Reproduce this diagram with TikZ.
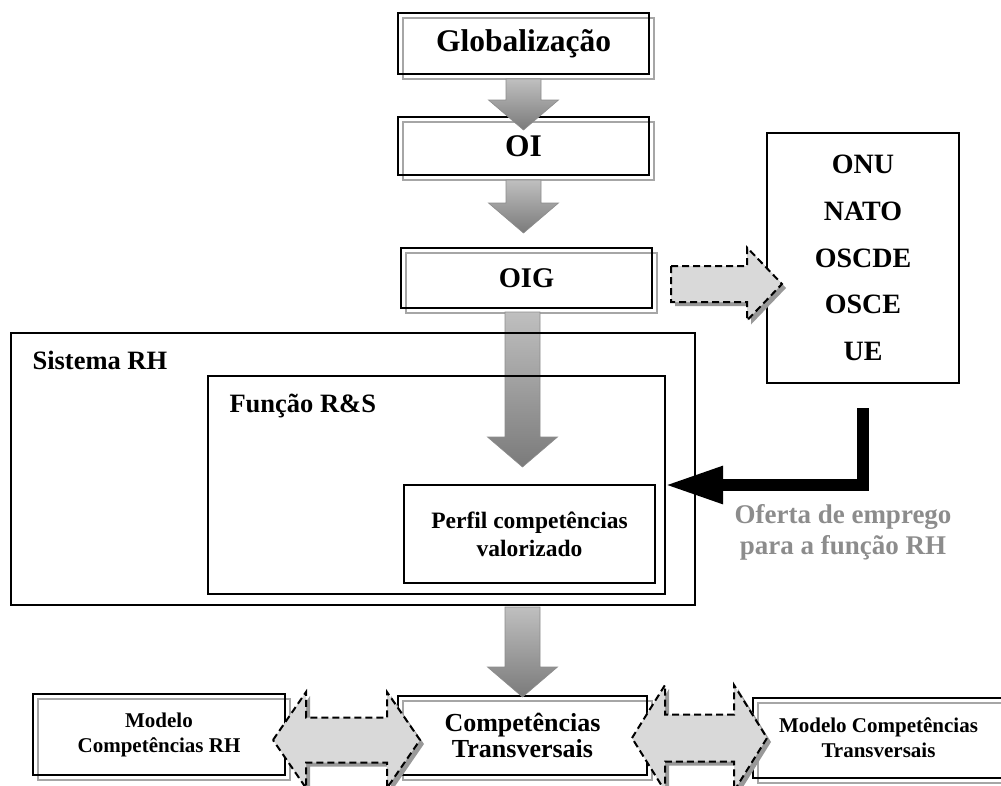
\documentclass[tikz,border=0pt]{standalone}
\usepackage{fontspec}
\setmainfont{Liberation Serif}
\usetikzlibrary{arrows.meta,positioning,calc,backgrounds}

% gray block arrow pointing down: #1 tail, #2 tip
\newcommand{\fatdown}[2]{%
  \path[fatarrow] ($(#1)+(-17.5,0)$) -- ($(#2)+(-17.5,-30)$) -- ($(#2)+(-35,-30)$) -- (#2)
    -- ($(#2)+(35,-30)$) -- ($(#2)+(17.5,-30)$) -- ($(#1)+(17.5,0)$) -- cycle;}
% outline of the dashed arrow to the right
\newcommand{\rightpath}[2]{($(#1)+(0,-18)$) -- ($(#2)+(-35,-18)$) -- ($(#2)+(-35,-36.5)$) -- (#2)
    -- ($(#2)+(-35,36.5)$) -- ($(#2)+(-35,18)$) -- ($(#1)+(0,18)$) -- cycle}
% outline of a double arrow: #3 half shaft, #4 half head
\newcommand{\dblpath}[4]{(#1) -- ($(#1)+(33,-#4)$) -- ($(#1)+(33,-#3)$) -- ($(#2)+(-33,-#3)$)
    -- ($(#2)+(-33,-#4)$) -- (#2) -- ($(#2)+(-33,#4)$) -- ($(#2)+(-33,#3)$)
    -- ($(#1)+(33,#3)$) -- ($(#1)+(33,#4)$) -- cycle}

\begin{document}
\begin{tikzpicture}[
        x=1pt, y=-1pt,
        box/.style={draw, line width=2.5pt, inner sep=0pt, outer sep=0pt, align=center},
        frame2/.style={draw=black!35, line width=2pt},
        fatarrow/.style={top color=black!25, bottom color=black!52, draw=black!45, line width=0.6pt},
        arrshadow/.style={fill=black!40, transform canvas={shift={(4pt,-4pt)}}},
        arrdash/.style={fill=black!15, draw=black, line width=2pt, dash pattern=on 7pt off 4pt},
        jobarrow/.style={line width=11.5pt, -{Triangle[length=58pt,width=35pt]}},
        f31/.style={font=\bfseries\fontsize{31.5}{36}\selectfont},
        f28/.style={font=\bfseries\fontsize{28.5}{32}\selectfont},
        f26/.style={font=\bfseries\fontsize{26.5}{30}\selectfont},
        f23/.style={font=\bfseries\fontsize{23.5}{28}\selectfont},
        f21/.style={font=\bfseries\fontsize{21}{25}\selectfont},
    ]
    \useasboundingbox (0,0) rectangle (1001,785);

    % top chain
    \node[box, f31, minimum width=251pt, minimum height=61pt] (glob) at (523.5,43.5) {Globalização};
    \node[box, f31, minimum width=251pt, minimum height=58pt] (oi) at (523.5,146) {OI};
    \node[box, f28, minimum width=251pt, minimum height=60pt] (oig) at (526.5,278) {OIG};

    % organisations
    \node[box, font=\bfseries\fontsize{28}{46.7}\selectfont, minimum width=192pt, minimum height=250pt]
        (onu) at (863,258) {ONU\\NATO\\OSCDE\\OSCE\\UE};

    % HR system and R&S function
    \node[box, minimum width=684pt, minimum height=272pt] (sys) at (353,469) {};
    \node[box, minimum width=457pt, minimum height=218pt] (fun) at (436.5,485) {};
    \node[box, f23, minimum width=251pt, minimum height=98pt] (perfil) at (529.5,534) {Perfil competências\\valorizado};
    \node[f26, anchor=base west] (syslbl) at ($(sys.north west)+(18,36)$) {Sistema RH};
    \node[f26, anchor=base west] (funlbl) at ($(fun.north west)+(18,36)$) {Função R\&S};

    % competences row
    \node[box, f21, minimum width=252pt, minimum height=81pt] (modl) at (159,734.5) {Modelo\\Competências RH};
    \node[box, font=\bfseries\fontsize{26}{26}\selectfont, minimum width=249pt, minimum height=79pt]
        (comp) at (522.5,735.5) {Competências\\Transversais};
    \node[box, f21, minimum width=251pt, minimum height=80pt] (modr) at (878.5,738) {Modelo Competências\\Transversais};

    % gray second frames
    \begin{scope}[on background layer]
        \foreach \n in {glob,oi,oig,modl,comp,modr}
            \draw[frame2] ($(\n.south west)+(4.5,5)$) rectangle ($(\n.north east)+(4.5,5)$);
    \end{scope}

    % block arrows down the chain
    \coordinate (t1) at ($(glob.south)+(0,5)$);
    \coordinate (h1) at ($(oi.north)+(0,13)$);
    \fatdown{t1}{h1};
    \coordinate (t2) at ($(oi.south)+(0,5)$);
    \coordinate (h2) at ($(oi.south)+(0,58)$);
    \fatdown{t2}{h2};
    \coordinate (t3) at ($(oig.south)+(-4,4)$);
    \coordinate (h3) at ($(t3 |- perfil.north)+(0,-18)$);
    \begin{scope}[on background layer]
        \fatdown{t3}{h3};
    \end{scope}
    \coordinate (t4) at ($(comp.north |- sys.south)+(0,2)$);
    \coordinate (h4) at ($(comp.north)+(0,1)$);
    \fatdown{t4}{h4};

    % dashed arrow to the organisations
    \coordinate (a1) at ($(oig.east)+(19,6)$);
    \coordinate (a2) at ($(a1 -| onu.west)+(15,0)$);
    \path[arrshadow] \rightpath{a1}{a2};
    \path[arrdash] \rightpath{a1}{a2};

    % double arrows between the models
    \coordinate (l1) at ($(modl.east)+(-12,5.5)$);
    \coordinate (l2) at ($(comp.west)+(22,4.5)$);
    \path[arrshadow] \dblpath{l1}{l2}{22.5}{48};
    \path[arrdash] \dblpath{l1}{l2}{22.5}{48};
    \coordinate (r1) at ($(comp.east)+(-15,2.5)$);
    \coordinate (r2) at ($(modr.west)+(14,0)$);
    \path[arrshadow] \dblpath{r1}{r2}{23.5}{53};
    \path[arrdash] \dblpath{r1}{r2}{23.5}{53};

    % job offer
    \draw[jobarrow] ($(onu.south)+(0,25)$) |- (fun.east);
    \node[font=\bfseries\fontsize{27}{31}\selectfont, text=black!45, align=center] (oferta) at (843,532)
        {Oferta de emprego\\para a função RH};
\end{tikzpicture}
\end{document}
